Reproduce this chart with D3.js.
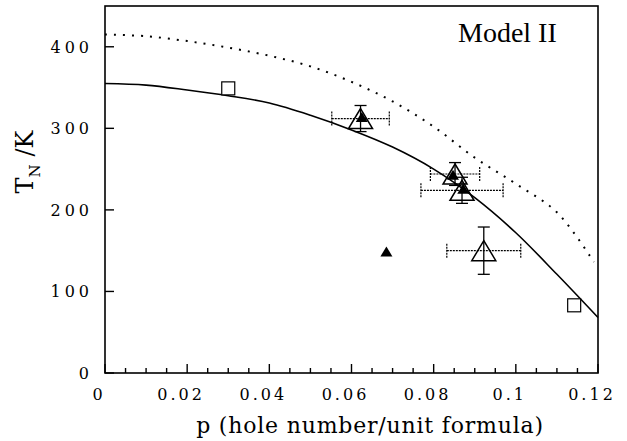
<!DOCTYPE html>
<html>
<head>
<meta charset="utf-8">
<script src="https://cdn.jsdelivr.net/npm/d3@7"></script>
<style>
  body { margin: 0; background: #fff; }
  svg { display: block; }
</style>
</head>
<body>
<div id="chart"></div>
<script>
// theory curves
var solid_p = [0, 0.01, 0.02, 0.03, 0.04, 0.05, 0.06, 0.07, 0.08, 0.09, 0.10, 0.11, 0.12];
var solid_t = [355, 353, 347, 340, 331, 316, 298, 277, 250, 215, 172, 121, 68];
var dotted_p = [0, 0.01, 0.02, 0.03, 0.04, 0.05, 0.06, 0.07, 0.08, 0.09, 0.10, 0.11, 0.119];
var dotted_t = [415, 413, 407, 399, 389, 376, 357, 333, 302, 264, 232, 197, 136];

// measured points
var square_p = [0.030, 0.1142];
var square_t = [349, 83];
var open_p = [0.0622, 0.0852, 0.0869, 0.0922];
var open_t = [312, 244, 224, 150];
var open_xerr = [0.007, 0.006, 0.010, 0.009];
var open_yerr = [16, 14, 16, 29];
var filled_p = [0.0625, 0.0847, 0.0872, 0.0685];
var filled_t = [314, 243, 226, 149];

var x_ticks = [0, 0.02, 0.04, 0.06, 0.08, 0.1, 0.12];
var x_tick_labels = ["0", "0.02", "0.04", "0.06", "0.08", "0.1", "0.12"];
var y_ticks = [0, 100, 200, 300, 400];

var W = 627, H = 441;
var pl = 105, pr = 598, pt = 6, pb = 373;
var serif = "'DejaVu Serif', serif";

var x = d3.scaleLinear().domain([0, 0.12]).range([pl, pr]);
var y = d3.scaleLinear().domain([0, 450]).range([pb, pt]);

var svg = d3.select("#chart")
	.append("svg")
	.attr("width", W)
	.attr("height", H)

// frame
svg.append("rect")
	.attr("x", pl).attr("y", pt)
	.attr("width", pr - pl).attr("height", pb - pt)
	.attr("fill", "none")
	.attr("stroke", "#000")
	.attr("stroke-width", 1.6)

// x ticks (inside, minor every 0.005)
var minor = d3.range(0, 0.1201, 0.005);
svg.append("g").selectAll("line")
	.data(minor)
	.enter().append("line")
	.attr("x1", function(d){ return x(d); })
	.attr("x2", function(d){ return x(d); })
	.attr("y1", pb)
	.attr("y2", function(d, i){ return i % 4 == 0 ? pb - 9 : pb - 5; })
	.attr("stroke", "#000")
	.attr("stroke-width", 1.4)

svg.append("g").selectAll("text")
	.data(x_ticks)
	.enter().append("text")
	.attr("x", function(d){ return x(d) - 6; })
	.attr("y", 400)
	.attr("text-anchor", "middle")
	.attr("font-family", serif)
	.attr("font-size", 16)
	.attr("letter-spacing", 3)
	.text(function(d, i){ return x_tick_labels[i]; })

// y ticks
svg.append("g").selectAll("line")
	.data(y_ticks)
	.enter().append("line")
	.attr("x1", pl).attr("x2", pl + 9)
	.attr("y1", function(d){ return y(d); })
	.attr("y2", function(d){ return y(d); })
	.attr("stroke", "#000")
	.attr("stroke-width", 1.4)

svg.append("g").selectAll("text")
	.data(y_ticks)
	.enter().append("text")
	.attr("x", 93)
	.attr("y", function(d){ return y(d) + 6; })
	.attr("text-anchor", "end")
	.attr("font-family", serif)
	.attr("font-size", 16)
	.attr("letter-spacing", 4)
	.text(function(d){ return d; })

// curves
var line = d3.line()
	.x(function(d){ return x(d[0]); })
	.y(function(d){ return y(d[1]); })
	.curve(d3.curveCatmullRom)

svg.append("path")
	.attr("d", line(d3.zip(dotted_p, dotted_t)))
	.attr("fill", "none")
	.attr("stroke", "#000")
	.attr("stroke-width", 2)
	.attr("stroke-dasharray", "2,7")

svg.append("path")
	.attr("d", line(d3.zip(solid_p, solid_t)))
	.attr("fill", "none")
	.attr("stroke", "#000")
	.attr("stroke-width", 1.6)

// squares
svg.append("g").selectAll("rect")
	.data(d3.zip(square_p, square_t))
	.enter().append("rect")
	.attr("x", function(d){ return x(d[0]) - 6.5; })
	.attr("y", function(d){ return y(d[1]) - 6.5; })
	.attr("width", 13).attr("height", 13)
	.attr("fill", "#fff")
	.attr("stroke", "#000")
	.attr("stroke-width", 1.2)

// error bars
var eb = svg.append("g");
open_p.forEach(function(p, i){
	var cx = x(p), cy = y(open_t[i]);
	var x0 = x(p - open_xerr[i]), x1 = x(p + open_xerr[i]);
	var y0 = y(open_t[i] - open_yerr[i]), y1 = y(open_t[i] + open_yerr[i]);
	// horizontal, dotted
	eb.append("line")
		.attr("x1", x0).attr("x2", x1).attr("y1", cy).attr("y2", cy)
		.attr("stroke", "#000").attr("stroke-width", 1.2)
		.attr("stroke-dasharray", "2,1")
	eb.append("line")
		.attr("x1", x0).attr("x2", x0).attr("y1", cy - 7).attr("y2", cy + 7)
		.attr("stroke", "#000").attr("stroke-width", 1.2)
		.attr("stroke-dasharray", "2,1")
	eb.append("line")
		.attr("x1", x1).attr("x2", x1).attr("y1", cy - 7).attr("y2", cy + 7)
		.attr("stroke", "#000").attr("stroke-width", 1.2)
		.attr("stroke-dasharray", "2,1")
	// vertical, solid
	eb.append("line")
		.attr("x1", cx).attr("x2", cx).attr("y1", y0).attr("y2", y1)
		.attr("stroke", "#000").attr("stroke-width", 1.3)
	eb.append("line")
		.attr("x1", cx - 6).attr("x2", cx + 6).attr("y1", y0).attr("y2", y0)
		.attr("stroke", "#000").attr("stroke-width", 1.3)
	eb.append("line")
		.attr("x1", cx - 6).attr("x2", cx + 6).attr("y1", y1).attr("y2", y1)
		.attr("stroke", "#000").attr("stroke-width", 1.3)
});

function tri(w, h) {
	return "M0," + (-h / 2) + "L" + (w / 2) + "," + (h / 2) + "L" + (-w / 2) + "," + (h / 2) + "Z";
}

// open triangles
svg.append("g").selectAll("path")
	.data(d3.zip(open_p, open_t))
	.enter().append("path")
	.attr("d", tri(24, 20))
	.attr("transform", function(d){ return "translate(" + x(d[0]) + "," + y(d[1]) + ")"; })
	.attr("fill", "none")
	.attr("stroke", "#000")
	.attr("stroke-width", 1.5)

// filled triangles
svg.append("g").selectAll("path")
	.data(d3.zip(filled_p, filled_t))
	.enter().append("path")
	.attr("d", tri(12, 10))
	.attr("transform", function(d){ return "translate(" + x(d[0]) + "," + y(d[1]) + ")"; })
	.attr("fill", "#000")

// labels
svg.append("text")
	.attr("x", 458).attr("y", 42)
	.attr("font-family", "'Liberation Serif', serif")
	.attr("font-size", 28)
	.text("Model II")

svg.append("text")
	.attr("x", 370).attr("y", 433)
	.attr("text-anchor", "middle")
	.attr("font-family", serif)
	.attr("font-size", 22)
	.attr("letter-spacing", 0.8)
	.text("p (hole number/unit formula)")

var yl = svg.append("text")
	.attr("transform", "translate(33,162) rotate(-90)")
	.attr("text-anchor", "middle")
	.attr("font-family", serif)
	.attr("font-size", 24)
yl.append("tspan").text("T")
yl.append("tspan").attr("dy", 7).attr("font-size", 15).text("N")
yl.append("tspan").attr("dy", -7).text(" /K")
</script>
</body>
</html>
